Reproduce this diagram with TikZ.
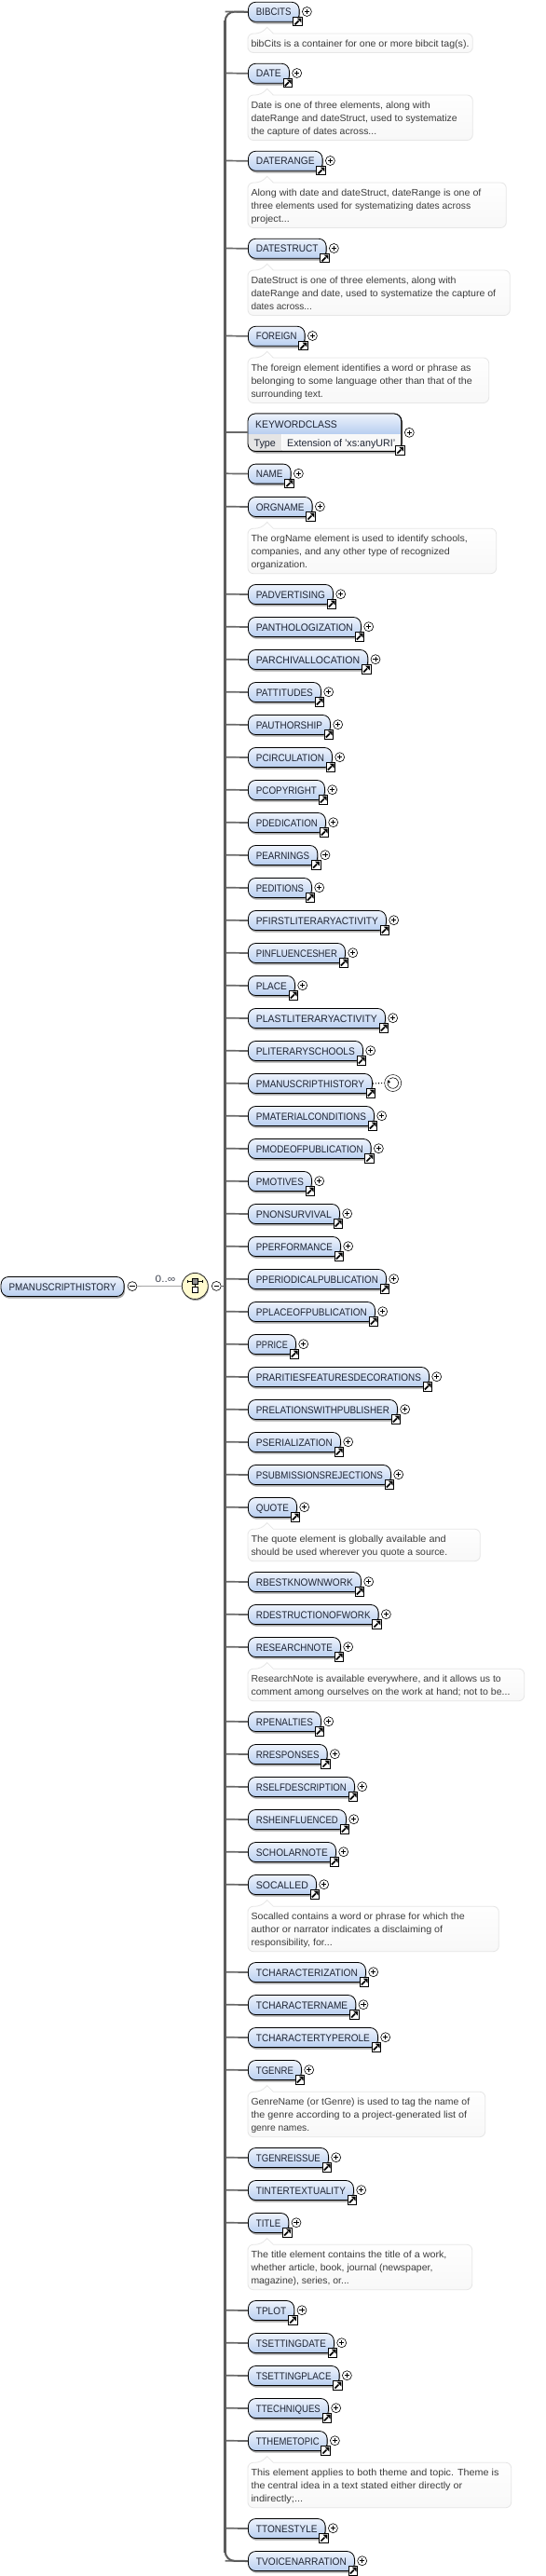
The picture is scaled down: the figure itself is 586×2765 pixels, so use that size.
\documentclass[tikz,border=0pt]{standalone}
\usepackage{fontspec}
\usepackage{graphicx}
\setmainfont{Liberation Sans}
\usetikzlibrary{shadows}
\definecolor{elemtop}{HTML}{EEF3FC}
\definecolor{elembot}{HTML}{B9CFF0}
\definecolor{labelink}{HTML}{1E2433}
\definecolor{docink}{HTML}{3C3C3C}
\definecolor{docedge}{HTML}{E6E6E6}
\definecolor{docbot}{HTML}{F8F8F8}
\definecolor{busgray}{HTML}{5C5C5C}
\definecolor{seqfill}{HTML}{FFFBCF}
\tikzset{
  elem/.style={rectangle,rounded corners=8pt,draw=black,line width=.8pt,top color=elemtop,bottom color=elembot,
    minimum height=21pt,inner sep=0pt,text height=8pt,text depth=0pt,text=labelink,
    font=\fontsize{11}{13}\selectfont,
    drop shadow={shadow xshift=1pt,shadow yshift=-2.2pt,fill=black,opacity=.35}},
  branch/.style={draw=busgray!92,line width=1.7pt},
  bus/.style={draw=busgray,line width=2pt},
  busmain/.style={draw=busgray,line width=2.7pt},
  plusicon/.style={circle,draw=black,line width=.6pt,fill=white,minimum size=10pt,inner sep=0pt,
    path picture={\draw[line width=.7pt] ([xshift=-2.6pt]path picture bounding box.center) -- ([xshift=2.6pt]path picture bounding box.center)
      ([yshift=-2.6pt]path picture bounding box.center) -- ([yshift=2.6pt]path picture bounding box.center);}},
  minusicon/.style={circle,draw=black,line width=.6pt,fill=white,minimum size=10pt,inner sep=0pt,
    path picture={\draw[line width=.7pt] ([xshift=-2.6pt]path picture bounding box.center) -- ([xshift=2.6pt]path picture bounding box.center);}},
  linkicon/.style={rectangle,draw=black,line width=.9pt,fill=white,minimum size=9.6pt,inner sep=0pt,
    path picture={\begin{scope}[shift={(path picture bounding box.center)}]
      \draw[line width=1.7pt,black] (-3.2,3.2) -- (.8,-.8);
      \fill[black] (3.6,-3.6) -- (-1.2,-3.6) -- (3.6,1.2) -- cycle;\end{scope}}},
  docshape/.style={draw=docedge,line width=.8pt,top color=white,bottom color=docbot},
  docline/.style={anchor=base west,inner sep=0pt,text=docink,font=\fontsize{10.3}{14}\selectfont},
}
\newcommand\fitw[2]{\resizebox{#1pt}{\height}{#2}}
% id, label, y, width
\newcommand\elembase[4]{%
  \pgfmathsetmacro\tw{#4-17}%
  \coordinate (#1-j) at (241.7,#3);
  \node[elem,minimum width=#4pt,anchor=west] (#1) at (266,#3+.3) {\fitw{\tw}{#2}};
  \node[linkicon] (#1-link) at (266+#4-1,#3+10.6) {};
  \draw[branch] (#1-j) -- (#1.west);
}
\newcommand\elem[4]{\elembase{#1}{#2}{#3}{#4}\node[plusicon] (#1-plus) at (266+#4+8.7,#3) {};}
% id, y, box width, number of lines
\newcommand\docbox[4]{%
  \path[docshape,rounded corners=6pt] (266,#2+34) |- (280,#2+23.5) [sharp corners] -- (286.7,#2+16.8) -- (293.3,#2+23.5)
     [rounded corners=6pt] -| (266+#3,#2+30+14*#4) -| cycle;
}
\newcommand\docl[5]{\node[docline] (#1-l#2) at (269.3,#3+23.5+14*#2) {\fitw{#4}{#5}};}
\newcommand\docA[6]{\docbox{#1}{#2}{#3}{1}\docl{#1}{1}{#2}{#4}{#5}}
\newcommand\docB[7]{\docbox{#1}{#2}{#3}{2}\docl{#1}{1}{#2}{#4}{#5}\docl{#1}{2}{#2}{#6}{#7}}
\newcommand\docC[9]{\docbox{#1}{#2}{#3}{3}\docl{#1}{1}{#2}{#4}{#5}\docl{#1}{2}{#2}{#6}{#7}\docthird{#1}{#2}{#8}{#9}}
\newcommand\docthird[4]{\docl{#1}{3}{#2}{#3}{#4}}
\begin{document}
\begin{tikzpicture}[x=1pt,y=-1pt]
\useasboundingbox (0,0) rectangle (586,2765);
\fill[white] (0,0) rectangle (586,2765);

\elem{BIBCITS}{BIBCITS}{12.5}{54.7}
\docA{BIBCITS}{12.5}{241.3}{234}{bibCits is a container for one or more bibcit tag(s).}{}
\elem{DATE}{DATE}{78.5}{44}
\docC{DATE}{78.5}{241.3}{192.3}{Date is one of three elements, along with}{221.3}{dateRange and dateStruct, used to systematize}{134.7}{the capture of dates across...}
\elem{DATERANGE}{DATERANGE}{172.5}{79.7}
\docC{DATERANGE}{172.5}{277.3}{247}{Along with date and dateStruct, dateRange is one of}{235.7}{three elements used for systematizing dates across}{41.3}{project...}
\elem{DATESTRUCT}{DATESTRUCT}{266.5}{83.7}
\docC{DATESTRUCT}{266.5}{281.3}{220}{DateStruct is one of three elements, along with}{262.7}{dateRange and date, used to systematize the capture of}{65.3}{dates across...}
\elem{FOREIGN}{FOREIGN}{360.5}{60.7}
\docC{FOREIGN}{360.5}{258.7}{236}{The foreign element identifies a word or phrase as}{237.3}{belonging to some language other than that of the}{77.3}{surrounding text.}

% KEYWORDCLASS
\coordinate (KW-j) at (241.7,464);
\node[rectangle,rounded corners=8pt,draw=black,line width=.8pt,fill=white,minimum width=164.7pt,minimum height=40.3pt,inner sep=0pt,anchor=west,
  drop shadow={shadow xshift=1pt,shadow yshift=-2.2pt,fill=black,opacity=.35}] (KW) at (266,464.2) {};
\begin{scope}
  \clip[rounded corners=8pt] (266,444) rectangle (430.7,484.3);
  \shade[top color=elemtop,bottom color=elembot] (266,444) rectangle (430.7,465);
  \fill[docbot] (302.5,466) rectangle (430.7,484.3);
  \fill[black!10] (266,466) rectangle (301.5,484.3);
\end{scope}
\draw[draw=black,line width=.8pt,rounded corners=8pt] (266,444) rectangle (430.7,484.3);
\node[anchor=base west,inner sep=0pt,text=labelink,font=\fontsize{11}{13}\selectfont] (KW-title) at (274,459) {\fitw{87.7}{KEYWORDCLASS}};
\node[anchor=base west,inner sep=0pt,text=labelink,font=\fontsize{11}{13}\selectfont] (KW-type) at (272.3,479) {\fitw{23.4}{Type}};
\node[anchor=base west,inner sep=0pt,text=labelink,font=\fontsize{11}{13}\selectfont] (KW-ext) at (308,479) {\fitw{116}{Extension of 'xs:anyURI'}};
\node[linkicon] (KW-link) at (429.5,483.5) {};
\node[plusicon] (KW-plus) at (439.3,464.3) {};
\draw[branch] (KW-j) -- (KW.west |- KW-j);

\elem{NAME}{NAME}{508.3}{45.7}
\elem{ORGNAME}{ORGNAME}{543.7}{68.7}
\docC{ORGNAME}{543.7}{266.7}{232.3}{The orgName element is used to identify schools,}{213.3}{companies, and any other type of recognized}{60.7}{organization.}
\elem{PADVERTISING}{PADVERTISING}{637.7}{91}
\elem{PANTHOLOGIZATION}{PANTHOLOGIZATION}{672.7}{121}
\elem{PARCHIVALLOCATION}{PARCHIVALLOCATION}{707.7}{128.3}
\elem{PATTITUDES}{PATTITUDES}{742.7}{78}
\elem{PAUTHORSHIP}{PAUTHORSHIP}{777.7}{88}
\elem{PCIRCULATION}{PCIRCULATION}{812.7}{90}
\elem{PCOPYRIGHT}{PCOPYRIGHT}{847.7}{82}
\elem{PDEDICATION}{PDEDICATION}{882.7}{83}
\elem{PEARNINGS}{PEARNINGS}{917.7}{74.3}
\elem{PEDITIONS}{PEDITIONS}{952.7}{68}
\elem{PFIRSTLITERARYACTIVITY}{PFIRSTLITERARYACTIVITY}{987.7}{148}
\elem{PINFLUENCESHER}{PINFLUENCESHER}{1022.7}{104}
\elem{PLACE}{PLACE}{1057.7}{50}
\elem{PLASTLITERARYACTIVITY}{PLASTLITERARYACTIVITY}{1092.7}{147}
\elem{PLITERARYSCHOOLS}{PLITERARYSCHOOLS}{1127.7}{123}
\elembase{PMANUSCRIPTHISTORY}{PMANUSCRIPTHISTORY}{1162.7}{133}
\node[circle,draw=black,line width=.5pt,fill=white,minimum size=18pt,inner sep=0pt] (cyc) at (421.7,1162.5) {};
\draw[line width=.6pt] (cyc.center) ++(-4.6,-3.5) arc[start angle=217,end angle=-130,radius=5.8];
\fill[black] ([xshift=-4.3pt,yshift=1.3pt]cyc.center) circle (1.5pt);
\draw[dotted,line width=1.1pt] (PMANUSCRIPTHISTORY.east) -- (cyc.west);
\elem{PMATERIALCONDITIONS}{PMATERIALCONDITIONS}{1197.7}{135}
\elem{PMODEOFPUBLICATION}{PMODEOFPUBLICATION}{1232.7}{131.7}
\elem{PMOTIVES}{PMOTIVES}{1267.7}{68}
\elem{PNONSURVIVAL}{PNONSURVIVAL}{1302.7}{98}
\elem{PPERFORMANCE}{PPERFORMANCE}{1337.7}{99}
\elem{PPERIODICALPUBLICATION}{PPERIODICALPUBLICATION}{1372.7}{148}
\elem{PPLACEOFPUBLICATION}{PPLACEOFPUBLICATION}{1407.7}{136}
\elem{PPRICE}{PPRICE}{1442.7}{51}
\elem{PRARITIESFEATURESDECORATIONS}{PRARITIESFEATURESDECORATIONS}{1477.7}{194}
\elem{PRELATIONSWITHPUBLISHER}{PRELATIONSWITHPUBLISHER}{1512.7}{160}
\elem{PSERIALIZATION}{PSERIALIZATION}{1547.7}{99}
\elem{PSUBMISSIONSREJECTIONS}{PSUBMISSIONSREJECTIONS}{1582.7}{153}
\elem{QUOTE}{QUOTE}{1617.7}{52}
\docB{QUOTE}{1617.7}{249.3}{209.3}{The quote element is globally available and}{210.7}{should be used wherever you quote a source.}
\elem{RBESTKNOWNWORK}{RBESTKNOWNWORK}{1697.7}{121}
\elem{RDESTRUCTIONOFWORK}{RDESTRUCTIONOFWORK}{1732.7}{139.7}
\elem{RESEARCHNOTE}{RESEARCHNOTE}{1767.7}{99}
\docB{RESEARCHNOTE}{1767.7}{296.7}{268.3}{ResearchNote is available everywhere, and it allows us to}{278}{comment among ourselves on the work at hand; not to be...}
\elem{RPENALTIES}{RPENALTIES}{1847.7}{78}
\elem{RRESPONSES}{RRESPONSES}{1882.7}{84.7}
\elem{RSELFDESCRIPTION}{RSELFDESCRIPTION}{1917.7}{114}
\elem{RSHEINFLUENCED}{RSHEINFLUENCED}{1952.7}{105}
\elem{SCHOLARNOTE}{SCHOLARNOTE}{1987.7}{94}
\elem{SOCALLED}{SOCALLED}{2022.7}{73}
\docC{SOCALLED}{2022.7}{269.3}{229.3}{Socalled contains a word or phrase for which the}{205.7}{author or narrator indicates a disclaiming of}{87.3}{responsibility, for...}
\elem{TCHARACTERIZATION}{TCHARACTERIZATION}{2116.7}{126}
\elem{TCHARACTERNAME}{TCHARACTERNAME}{2151.7}{115.3}
\elem{TCHARACTERTYPEROLE}{TCHARACTERTYPEROLE}{2186.7}{139}
\elem{TGENRE}{TGENRE}{2221.7}{57}
\docC{TGENRE}{2221.7}{254.7}{234.7}{GenreName (or tGenre) is used to tag the name of}{231.7}{the genre according to a project-generated list of}{62.7}{genre names.}
\elem{TGENREISSUE}{TGENREISSUE}{2315.7}{86}
\elem{TINTERTEXTUALITY}{TINTERTEXTUALITY}{2350.7}{113}
\elem{TITLE}{TITLE}{2385.7}{43.3}
\docC{TITLE}{2385.7}{240.7}{210}{The title element contains the title of a work,}{195}{whether article, book, journal (newspaper,}{105.3}{magazine), series, or...}
\elem{TPLOT}{TPLOT}{2479.7}{49.3}
\elem{TSETTINGDATE}{TSETTINGDATE}{2514.7}{92}
\elem{TSETTINGPLACE}{TSETTINGPLACE}{2549.7}{97.7}
\elem{TTECHNIQUES}{TTECHNIQUES}{2584.7}{86}
\elem{TTHEMETOPIC}{TTHEMETOPIC}{2619.7}{84.7}
\docC{TTHEMETOPIC}{2619.7}{282.7}{266}{This element applies to both theme and topic. Theme is}{226.7}{the central idea in a text stated either directly or}{55.7}{indirectly;...}
\elem{TTONESTYLE}{TTONESTYLE}{2713.7}{82.7}
\elem{TVOICENARRATION}{TVOICENARRATION}{2748.7}{114}

% spine
\draw[bus,rounded corners=10pt] (BIBCITS.west) -- (BIBCITS-j) -- (TVOICENARRATION-j) -- (TVOICENARRATION.west);
\draw[busmain] ([yshift=-9pt]BIBCITS-j) -- ([yshift=9pt]TVOICENARRATION-j);

% root and compositor
\node[elem,minimum width=132pt,anchor=west] (root) at (.7,1381) {\fitw{115}{PMANUSCRIPTHISTORY}};
\node[minusicon] (root-minus) at (142,1380.6) {};
\node[circle,draw=black!85,line width=.8pt,fill=seqfill,minimum size=28pt,inner sep=0pt,
  drop shadow={shadow xshift=.6pt,shadow yshift=-1.6pt,fill=black,opacity=.35}] (seq) at (209.3,1380.4) {};
\node[minusicon] (seq-minus) at (232.3,1380.4) {};
\coordinate (seq-j) at (241.7,1380.4);
\draw[draw=black!35,line width=.8pt] (root-minus.east) -- (seq.west);
\draw[draw=busgray,line width=1.6pt] (seq-minus.east) -- (seq-j);
\node[inner sep=0pt,text=labelink!85,font=\fontsize{10.5}{12}\selectfont] (root-card) at (177.5,1373) {\fitw{21.6}{0..∞}};
\begin{scope}[shift={(seq.center)}]
  \draw[line width=.8pt,black] (-8,-5) -- (8,-5) (-8,-6.5) -- (-8,-3.5) (8,-6.5) -- (8,-3.5) (0,-5) -- (0,4);
  \filldraw[draw=black,fill=black!45,line width=.6pt] (-3,-8) rectangle (3,-2);
  \filldraw[draw=black,fill=white,line width=.7pt] (-3,1) rectangle (3,7);
\end{scope}
\end{tikzpicture}
\end{document}
